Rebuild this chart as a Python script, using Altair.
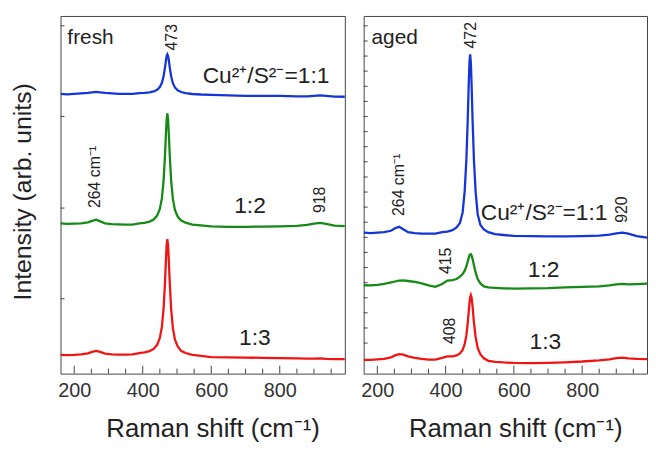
import altair as alt
import pandas as pd

FONT = "Liberation Sans"

# Raman shift grid (cm^-1)
x_cm = [160, 180, 200, 220, 240, 252, 264, 276, 290, 310, 330, 350, 370, 390, 405,
        420, 432, 442, 450, 456, 461, 465, 468, 470, 472, 474, 476, 479, 483, 488,
        494, 502, 512, 525, 545, 570, 600, 650, 700, 750, 800, 850, 880, 900, 918,
        935, 960, 990]

# fresh samples (intensity, arb. units incl. vertical offset)
fresh_11 = [284, 283.5, 284, 284.5, 285, 285.5, 286, 285.5, 285, 284.5, 284, 284, 284, 284.6, 284.9,
            285.4, 286.4, 288, 290.8, 295.2, 302.1, 310.8, 318.5, 322.5, 324, 322.3, 318.3, 310.6, 301.8, 294.8,
            290.5, 287.5, 285.8, 284.6, 283.8, 283.3, 283, 282.5, 282, 282, 281.8, 281.5, 281.5, 282, 282.5,
            282, 281.2, 281]
fresh_12 = [152.5, 152, 152.3, 152.5, 153.5, 155, 156.3, 154.5, 152.5, 151.8, 151.5, 151.3, 151.2, 152.4, 153,
            154.3, 156.4, 160.4, 167.2, 178.1, 196.3, 221.4, 245.4, 258.7, 264, 258.2, 244.9, 220.9, 195.8, 177.6,
            166.2, 159.4, 155.4, 153.3, 151.3, 150.5, 149.5, 149, 149, 149.3, 149.5, 150, 151, 152.3, 153,
            152, 150.3, 149.7]
fresh_13 = [19, 18.8, 19, 19.5, 20.5, 22, 23, 22, 20.3, 19.5, 19.3, 19.3, 19.5, 20.9, 21.6,
            22.9, 25.1, 29.2, 36.2, 47.6, 66.4, 92.4, 117.2, 131, 136.5, 130, 116.2, 91.4, 65.4, 46.1,
            34.7, 27.7, 23.1, 20.9, 19, 18, 16.8, 16.5, 16.3, 16, 15.8, 15.5, 15.3, 15.3, 15.5,
            15, 14.8, 14.7]

# aged samples
aged_11 = [143, 142.5, 143, 143.5, 145, 147.5, 149, 146.5, 143.5, 142.5, 142, 142, 142, 143.5, 144.2,
           145.6, 148.4, 152.9, 163.8, 185.7, 218.4, 259.4, 296.7, 316.7, 324, 315.2, 295.2, 257.9, 216.9, 184.2,
           161.8, 150.9, 146.4, 143.6, 141.5, 140.7, 139.7, 139.5, 139.3, 139.3, 139.5, 140, 141, 142.3, 143,
           142, 139.5, 138]
aged_12 = [89.7, 89.5, 90, 91, 92.5, 93.5, 94.5, 94.7, 94, 93, 91.5, 89.5, 88, 91, 94.5,
           95, 96, 98.5, 101, 104.5, 109, 114, 118, 120, 121, 121.3, 120, 116.5, 110, 102.5,
           96, 91.5, 88.5, 87.5, 87, 86.5, 86.3, 86.5, 86.8, 87.5, 88, 88.5, 89.5, 90.5, 91,
           90.5, 90.8, 91.3]
aged_13 = [14, 14, 14.5, 15, 16.5, 18.5, 19.7, 19.3, 17.5, 16, 15, 14.3, 14.2, 16, 17.5,
           17.5, 18.5, 20.5, 24, 30, 39, 52, 64, 72, 77.5, 79.7, 77.5, 68, 52, 37,
           26, 19.5, 15.5, 13, 12, 11.3, 10.8, 10.7, 11, 11.5, 12.3, 13.5, 14.5, 15.8, 16.2,
           15.5, 15, 14.7]

series_names = ["1:1", "1:2", "1:3"]
series_colors = ["#1535d8", "#168a16", "#f01414"]

major_ticks = [200, 400, 600, 800]
minor_ticks = [250, 300, 350, 450, 500, 550, 650, 700, 750, 850, 900, 950]
left_yticks = [76, 168, 261, 353]
right_yticks = [31, 46.3, 61.7, 77, 92.3, 107.7, 123, 138.3, 153.6, 169, 184.3,
                199.6, 215, 230.3, 245.6, 261, 276.3, 291.6, 307, 322.3, 337.6, 353]

# annotations
fresh_name = ["fresh"]; fresh_name_x = [180]; fresh_name_y = [335]
fresh_ratio = ["Cu²⁺/S²⁻=1:1", "1:2", "1:3"]; fresh_ratio_x = [575, 667, 681]; fresh_ratio_y = [295, 163, 29]
fresh_rot = ["473", "264 cm⁻¹", "918"]; fresh_rot_x = [486, 260, 918]; fresh_rot_y = [328, 168, 163]

aged_name = ["aged"]; aged_name_x = [183]; aged_name_y = [335]
aged_ratio = ["Cu²⁺/S²⁻=1:1", "1:2", "1:3"]; aged_ratio_x = [503, 641, 646]; aged_ratio_y = [156, 98, 25]
aged_rot = ["472", "264 cm⁻¹", "920", "415", "408"]
aged_rot_x = [476, 264, 918, 402, 412]; aged_rot_y = [330, 160, 153, 101, 30]

H = 361
XDOM = [160, 990]
YDOM = [0, 363]


def long_df(series_list):
    rows = []
    for name, ys in zip(series_names, series_list):
        for xv, yv in zip(x_cm, ys):
            rows.append({"x": xv, "y": yv, "series": name})
    return pd.DataFrame(rows)


def ann_df(labels, xs, ys):
    return pd.DataFrame({"label": labels, "x": xs, "y": ys})


xs = alt.Scale(domain=XDOM, nice=False, zero=False)
ys = alt.Scale(domain=YDOM, nice=False, zero=False)


def panel(series_list, name, ratio, rot, width, ytitle, yticks):
    x_axis = alt.Axis(orient="bottom", values=major_ticks, ticks=False, domain=False, grid=False,
                      labelFontSize=20, labelFont=FONT, labelColor="#333", labelPadding=7,
                      title="Raman shift (cm⁻¹)", titleFontSize=26, titleFont=FONT,
                      titleFontWeight="normal", titleColor="#222", titleX=width / 2 + 10,
                      titleY=63, titleAlign="center", titleBaseline="alphabetic")
    if ytitle:
        y_axis = alt.Axis(orient="left", title="Intensity (arb. units)", labels=False, ticks=False,
                          domain=False, grid=False, titleFontSize=25, titleFont=FONT,
                          titleFontWeight="normal", titleColor="#222", titleAngle=270,
                          titleX=-38, titleY=177, titleBaseline="middle", titleAlign="center")
    else:
        y_axis = None

    lines = alt.Chart(long_df(series_list)).mark_line(strokeWidth=2.3, clip=True).encode(
        x=alt.X("x:Q", scale=xs, axis=x_axis),
        y=alt.Y("y:Q", scale=ys, axis=y_axis),
        color=alt.Color("series:N", scale=alt.Scale(domain=series_names, range=series_colors), legend=None),
        detail="series:N",
    )
    major = alt.Chart(pd.DataFrame({"t": major_ticks})).mark_rule(color="#444", strokeWidth=1).encode(
        x=alt.X("t:Q", scale=xs), y=alt.value(H - 8), y2=alt.value(H))
    minor = alt.Chart(pd.DataFrame({"t": minor_ticks})).mark_rule(color="#444", strokeWidth=1).encode(
        x=alt.X("t:Q", scale=xs), y=alt.value(H - 5), y2=alt.value(H))
    yt = alt.Chart(pd.DataFrame({"t": yticks})).mark_rule(color="#444", strokeWidth=1).encode(
        y=alt.Y("t:Q", scale=ys), x=alt.value(0), x2=alt.value(4))
    names = alt.Chart(ann_df(*name)).mark_text(align="left", baseline="alphabetic", fontSize=21,
                                               font=FONT, color="#222").encode(
        x=alt.X("x:Q", scale=xs), y=alt.Y("y:Q", scale=ys), text="label:N")
    ratios = alt.Chart(ann_df(*ratio)).mark_text(align="left", baseline="alphabetic", fontSize=23,
                                                 font=FONT, color="#222").encode(
        x=alt.X("x:Q", scale=xs), y=alt.Y("y:Q", scale=ys), text="label:N")
    rots = alt.Chart(ann_df(*rot)).mark_text(align="left", baseline="middle", angle=270, fontSize=16,
                                             font=FONT, color="#222").encode(
        x=alt.X("x:Q", scale=xs), y=alt.Y("y:Q", scale=ys), text="label:N")
    return alt.layer(lines, major, minor, yt, names, ratios, rots).properties(width=width, height=H)


left = panel([fresh_11, fresh_12, fresh_13], (fresh_name, fresh_name_x, fresh_name_y),
             (fresh_ratio, fresh_ratio_x, fresh_ratio_y), (fresh_rot, fresh_rot_x, fresh_rot_y),
             287, True, left_yticks)
right = panel([aged_11, aged_12, aged_13], (aged_name, aged_name_x, aged_name_y),
              (aged_ratio, aged_ratio_x, aged_ratio_y), (aged_rot, aged_rot_x, aged_rot_y),
              286, False, right_yticks)

chart = alt.hconcat(left, right, spacing=14).properties(
    padding={"left": 2, "top": 5, "right": 0, "bottom": 0}
).configure_view(stroke="#444", strokeWidth=1).configure_axis(grid=False)

chart.save("out.html", embed_options={"renderer": "svg", "actions": False})
